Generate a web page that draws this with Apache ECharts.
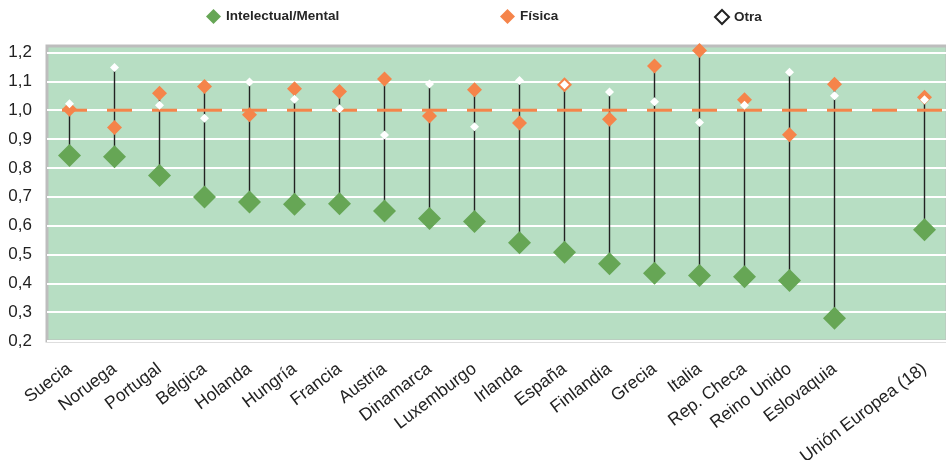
<!DOCTYPE html>
<html>
<head>
<meta charset="utf-8">
<script src="https://cdn.jsdelivr.net/npm/echarts@6/dist/echarts.min.js"></script>
<style>
html,body{margin:0;padding:0;background:#fff;}
#c{width:946px;height:460px;}
</style>
</head>
<body>
<div id="c"></div>
<script>
const categories = ['Suecia','Noruega','Portugal','Bélgica','Holanda','Hungría','Francia','Austria','Dinamarca','Luxemburgo','Irlanda','España','Finlandia','Grecia','Italia','Rep. Checa','Reino Unido','Eslovaquia','','Unión Europea (18)'];
const intelectual = [0.843,0.839,0.774,0.699,0.682,0.674,0.676,0.651,0.625,0.614,0.541,0.508,0.468,0.435,0.427,0.423,0.410,0.279,null,0.586];
const fisica = [1.003,0.940,1.059,1.082,0.984,1.074,1.065,1.108,0.980,1.071,0.956,1.088,0.969,1.153,1.207,1.036,0.915,1.090,null,1.045];
const otra = [1.022,1.148,1.017,0.972,1.098,1.038,1.005,0.914,1.091,0.943,1.103,1.088,1.063,1.029,0.957,1.017,1.132,1.050,null,1.036];
const referencia = [1,1,1,1,1,1,1,1,1,1,1,1,1,1,1,1,1,1,1,1];
const yTicks = [0.2,0.3,0.4,0.5,0.6,0.7,0.8,0.9,1.0,1.1,1.2];

const FONT = "'Liberation Sans', Arial, sans-serif";
const GREEN = '#66A655', ORANGE = '#F5844A';

const ranges = [];
categories.forEach((c, i) => {
  const vals = [intelectual[i], fisica[i], otra[i]].filter(v => v != null);
  if (vals.length) ranges.push([i, Math.min(...vals), Math.max(...vals)]);
});

const chart = echarts.init(document.getElementById('c'), null, {renderer: 'canvas'});
const legendText = {fontFamily: FONT, fontWeight: 'bold', fontSize: 13.5, color: '#262626'};
chart.setOption({
  animation: false,
  legend: [
    {data: [{name: 'Intelectual/Mental', icon: 'diamond'}], left: 206, top: 9, padding: 0, itemWidth: 15, itemHeight: 15, selectedMode: false, textStyle: legendText},
    {data: [{name: 'Física', icon: 'diamond'}], left: 500, top: 9, padding: 0, itemWidth: 15, itemHeight: 15, selectedMode: false, textStyle: legendText},
    {data: [{name: 'Otra', icon: 'diamond', itemStyle: {color: '#fff', borderColor: '#222', borderWidth: 2, opacity: 1}}], left: 714, top: 9, padding: 0, itemWidth: 14, itemHeight: 14, selectedMode: false, textStyle: legendText}
  ],
  grid: {left: 47, right: -1, top: 46, bottom: 119, containLabel: false, outerBoundsMode: 'none', show: true, backgroundColor: '#B7DEC3', borderColor: '#BDBDBD', borderWidth: 3},
  xAxis: {
    type: 'category', data: categories, boundaryGap: true,
    axisLine: {show: false}, axisTick: {show: false},
    axisLabel: {interval: 0, rotate: 37, margin: 26, fontFamily: FONT, fontSize: 17.5, color: '#222'}
  },
  yAxis: {
    type: 'value', min: 0.2, max: 1.2226, interval: 0.1,
    axisLine: {show: false}, axisTick: {show: false},
    splitLine: {show: true, showMaxLine: false, lineStyle: {color: '#fff', width: 2}},
    axisLabel: {
      margin: 15, fontFamily: FONT, fontSize: 17, color: '#222',
      formatter: v => {
        const t = yTicks.find(k => Math.abs(k - v) < 1e-6);
        return t === undefined ? '' : t.toFixed(1).replace('.', ',');
      }
    }
  },
  series: [
    {
      type: 'custom', name: 'rango', z: 2, silent: true,
      renderItem: (params, api) => {
        const lo = api.coord([api.value(0), api.value(1)]);
        const hi = api.coord([api.value(0), api.value(2)]);
        return {type: 'line', shape: {x1: lo[0], y1: lo[1], x2: hi[0], y2: hi[1]}, style: {stroke: '#222', lineWidth: 1.4}};
      },
      encode: {x: 0, y: [1, 2]},
      data: ranges
    },
    {type: 'scatter', name: 'ref', z: 3, silent: true, symbol: 'rect', symbolSize: [25, 3], symbolOffset: [5, 0], itemStyle: {color: ORANGE, opacity: 1}, data: referencia},
    {type: 'scatter', name: 'Intelectual/Mental', z: 4, symbol: 'diamond', symbolSize: [23, 23], itemStyle: {color: GREEN, opacity: 1}, data: intelectual},
    {type: 'scatter', name: 'Física', z: 5, symbol: 'diamond', symbolSize: [15, 15], itemStyle: {color: ORANGE, opacity: 1}, data: fisica},
    {type: 'scatter', name: 'Otra', z: 6, symbol: 'diamond', symbolSize: [9, 9], itemStyle: {color: '#fff', opacity: 1}, data: otra}
  ]
});
</script>
</body>
</html>
